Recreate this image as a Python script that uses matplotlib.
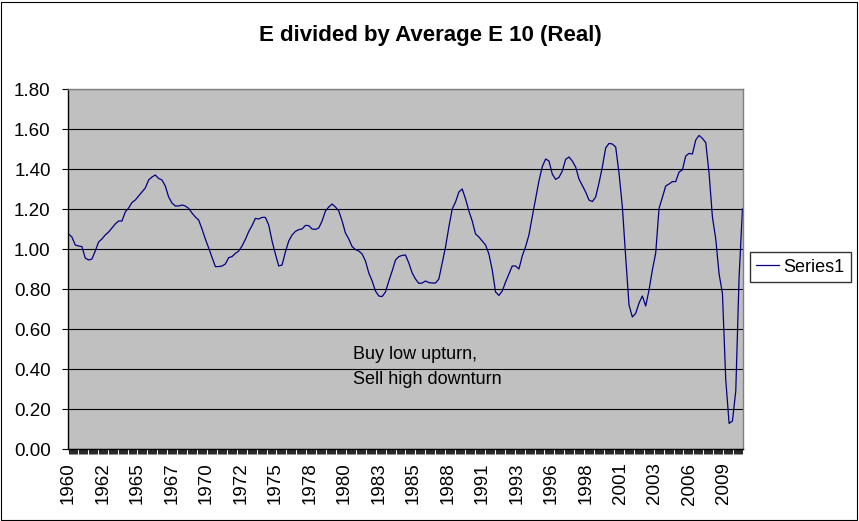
import numpy as np
import matplotlib
matplotlib.use("Agg")
import matplotlib.pyplot as plt
from matplotlib.patches import Rectangle
from matplotlib.ticker import FixedLocator, FuncFormatter

plt.rcParams['font.family'] = ['Liberation Sans', 'DejaVu Sans']

# quarterly readings of E / average E10 (real), 1960 Q1 .. 2010 Q3
start_year = 1960
ratio = [
    1.075, 1.06, 1.02, 1.015,      # 1960
    1.012, 0.955, 0.945, 0.95,     # 1961
    0.99, 1.035, 1.05, 1.07,       # 1962
    1.085, 1.105, 1.125, 1.14,     # 1963
    1.14, 1.185, 1.205, 1.232,     # 1964
    1.245, 1.265, 1.285, 1.305,    # 1965
    1.345, 1.36, 1.37, 1.353,      # 1966
    1.345, 1.315, 1.26, 1.23,      # 1967
    1.215, 1.215, 1.22, 1.215,     # 1968
    1.203, 1.18, 1.16, 1.145,      # 1969
    1.10, 1.05, 1.005, 0.958,      # 1970
    0.912, 0.912, 0.915, 0.925,    # 1971
    0.957, 0.962, 0.978, 0.99,     # 1972
    1.015, 1.048, 1.087, 1.117,    # 1973
    1.153, 1.15, 1.158, 1.158,     # 1974
    1.12, 1.04, 0.975, 0.915,      # 1975
    0.92, 0.985, 1.04, 1.07,       # 1976
    1.088, 1.097, 1.10, 1.118,     # 1977
    1.117, 1.10, 1.098, 1.105,     # 1978
    1.14, 1.19, 1.21, 1.225,       # 1979
    1.21, 1.19, 1.14, 1.08,        # 1980
    1.05, 1.012, 0.997, 0.99,      # 1981
    0.975, 0.94, 0.88, 0.84,       # 1982
    0.79, 0.765, 0.762, 0.785,     # 1983
    0.84, 0.89, 0.945, 0.962,      # 1984
    0.968, 0.97, 0.93, 0.88,       # 1985
    0.85, 0.828, 0.83, 0.84,       # 1986
    0.832, 0.83, 0.83, 0.85,       # 1987
    0.93, 1.01, 1.11, 1.20,        # 1988
    1.235, 1.285, 1.30, 1.25,      # 1989
    1.19, 1.14, 1.075, 1.06,       # 1990
    1.04, 1.02, 0.975, 0.895,      # 1991
    0.785, 0.768, 0.79, 0.835,     # 1992
    0.875, 0.915, 0.915, 0.90,     # 1993
    0.965, 1.012, 1.07, 1.162,     # 1994
    1.25, 1.34, 1.412, 1.45,       # 1995
    1.44, 1.375, 1.348, 1.358,     # 1996
    1.39, 1.448, 1.46, 1.44,       # 1997
    1.41, 1.35, 1.318, 1.285,      # 1998
    1.245, 1.237, 1.26, 1.33,      # 1999
    1.41, 1.505, 1.528, 1.525,     # 2000
    1.51, 1.38, 1.212, 0.96,       # 2001
    0.72, 0.66, 0.678, 0.73,       # 2002
    0.765, 0.715, 0.795, 0.895,    # 2003
    0.98, 1.203, 1.258, 1.315,     # 2004
    1.325, 1.337, 1.337, 1.385,    # 2005
    1.395, 1.465, 1.478, 1.475,    # 2006
    1.545, 1.568, 1.553, 1.532,    # 2007
    1.378, 1.16, 1.05, 0.875,      # 2008
    0.778, 0.345, 0.128, 0.14,     # 2009
    0.29, 0.862, 1.20,             # 2010
]

label_every = 31      # excel shows a year label every 31 monthly categories
series_name = "Series1"
title = "E divided by Average E 10 (Real)"
note = "Buy low upturn,\nSell high downturn"

months = np.arange(len(ratio)) * 3
n_months = months[-1]

fig = plt.figure(figsize=(8.59, 5.21), dpi=100)
ax = fig.add_axes([68/859, 1-449/521, 675/859, 360/521])
ax.set_facecolor('#C0C0C0')

ax.plot(months, ratio, color='#000080', lw=0.9, label=series_name)

ax.set_xlim(-0.5, n_months + 0.5)
ax.set_ylim(0, 1.8)
ax.set_yticks(np.arange(0, 1.81, 0.2))
ax.yaxis.set_major_formatter(FuncFormatter(lambda v, p: f"{v:.2f}"))
ax.grid(axis='y', color='black', lw=0.8)
ax.set_axisbelow(True)

major = np.arange(0, n_months + 1, label_every)
ax.xaxis.set_major_locator(FixedLocator(major))
ax.xaxis.set_minor_locator(FixedLocator(np.arange(0, n_months + 1, 1)))
ax.set_xticklabels([str(start_year + m // 12) for m in major], rotation=90)
ax.tick_params(axis='x', which='both', length=3.8, width=0.6, color='black',
               direction='out', labelsize=13.5, pad=6)
ax.tick_params(axis='y', length=4.5, width=0.8, color='black', labelsize=13.5, pad=8)

for s in ['top', 'right']:
    ax.spines[s].set_color('#808080')
    ax.spines[s].set_linewidth(1.0)
for s in ['left', 'bottom']:
    ax.spines[s].set_color('black')
    ax.spines[s].set_linewidth(1.0)

ax.text((353-68)/675, (449-346)/360, note, transform=ax.transAxes,
        fontsize=13, va='top', ha='left', linespacing=1.6)

fig.text(430/859, 1-36/521, title, fontsize=16, fontweight='bold',
         ha='center', va='center')

leg = ax.legend(loc='center left', bbox_to_anchor=(750/859, 1-267/521),
                bbox_transform=fig.transFigure, fontsize=13, frameon=True,
                fancybox=False, edgecolor='black', handlelength=1.25,
                borderpad=0.35, handletextpad=0.25, borderaxespad=0)
leg.get_frame().set_linewidth(1.0)

fig.patches.append(Rectangle((1/859, 1/521), 856/859, 518/521, fill=False,
                             edgecolor='black', lw=0.8,
                             transform=fig.transFigure, figure=fig))

fig.savefig('out.png', dpi=100)
